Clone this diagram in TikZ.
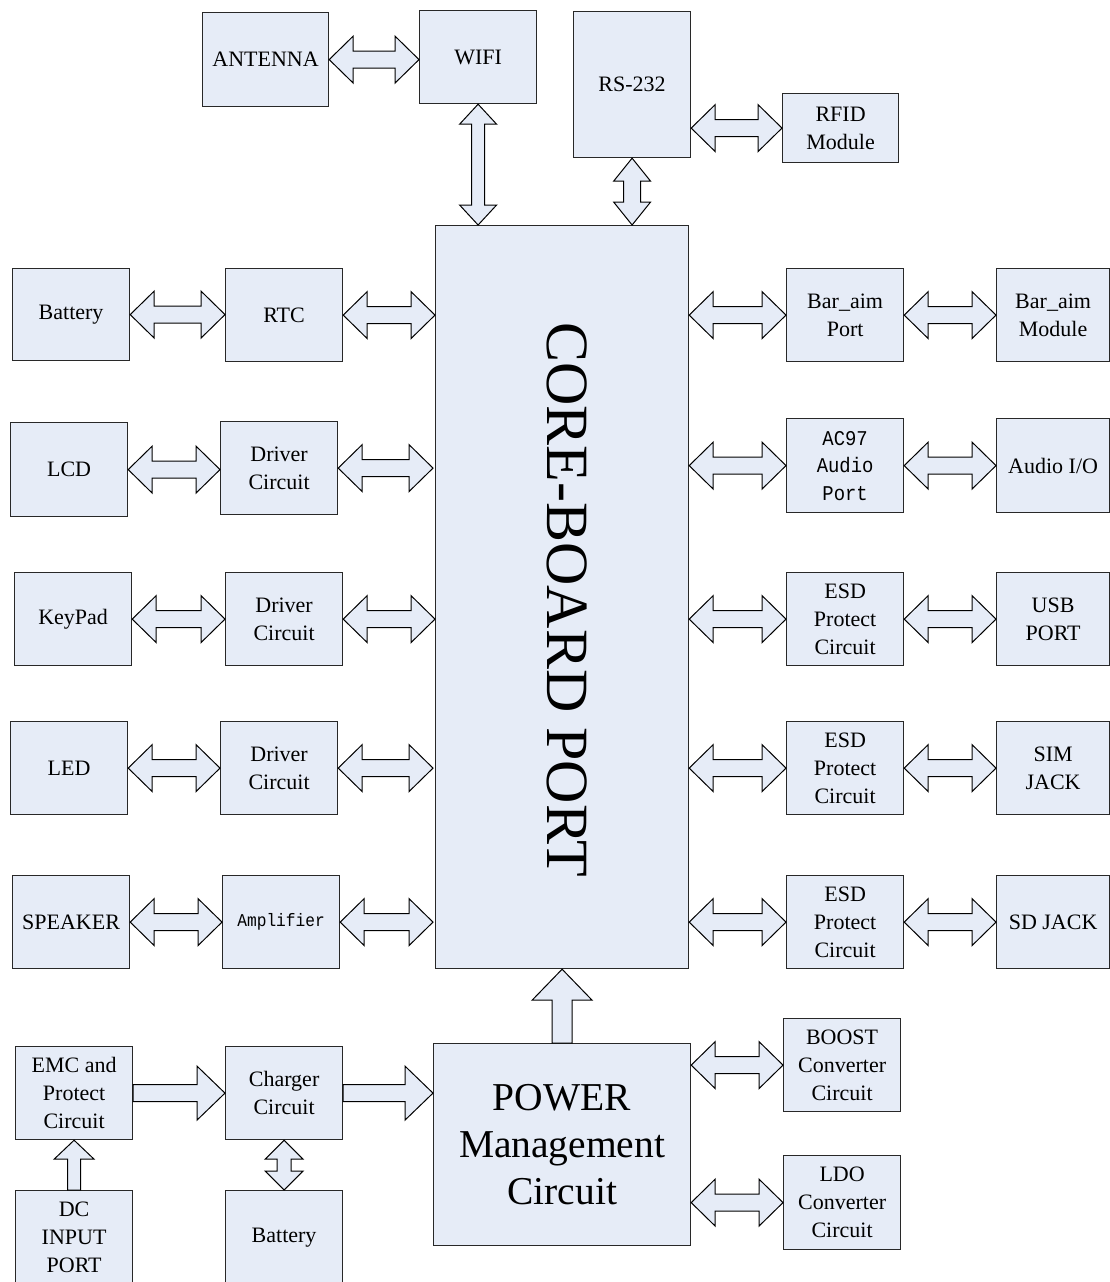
\documentclass[tikz,border=0pt]{standalone}
\usepackage{fontspec}
\setmainfont{Liberation Serif}
\newfontfamily\monof[FakeStretch=0.9]{Liberation Mono}
\usetikzlibrary{calc}
\definecolor{boxfill}{RGB}{230,236,247}
\definecolor{boxline}{RGB}{40,40,40}
\tikzset{
  box/.style={draw=boxline, fill=boxfill, line width=1.2pt, inner sep=0pt, align=center, anchor=north west,
     font=\fontsize{22}{28}\selectfont},
  arr/.style={draw=black, fill=boxfill, line width=1pt, line join=miter}
}
% double horizontal block arrow: #1 left point, #2 right point, #3 head length, #4 head half-height, #5 shaft half-height
\newcommand\dha[5]{\draw[arr] let \p1=#1, \p2=#2 in
  (\x1,\y1) -- (\x1+#3,\y1+#4) -- (\x1+#3,\y1+#5) -- (\x2-#3,\y1+#5) -- (\x2-#3,\y1+#4) -- (\x2,\y1)
  -- (\x2-#3,\y1-#4) -- (\x2-#3,\y1-#5) -- (\x1+#3,\y1-#5) -- (\x1+#3,\y1-#4) -- cycle;}
% double vertical block arrow: #1 top point, #2 bottom point
\newcommand\dva[5]{\draw[arr] let \p1=#1, \p2=#2 in
  (\x1,\y1) -- (\x1+#4,\y1-#3) -- (\x1+#5,\y1-#3) -- (\x1+#5,\y2+#3) -- (\x1+#4,\y2+#3) -- (\x1,\y2)
  -- (\x1-#4,\y2+#3) -- (\x1-#5,\y2+#3) -- (\x1-#5,\y1-#3) -- (\x1-#4,\y1-#3) -- cycle;}
% single right arrow: #1 tail, #2 tip
\newcommand\sra[5]{\draw[arr] let \p1=#1, \p2=#2 in
  (\x1,\y1+#5) -- (\x2-#3,\y1+#5) -- (\x2-#3,\y1+#4) -- (\x2,\y1) -- (\x2-#3,\y1-#4) -- (\x2-#3,\y1-#5) -- (\x1,\y1-#5) -- cycle;}
% single up arrow: #1 tail (bottom), #2 tip (top)
\newcommand\sua[5]{\draw[arr] let \p1=#1, \p2=#2 in
  (\x1-#5,\y1) -- (\x1-#5,\y2-#3) -- (\x1-#4,\y2-#3) -- (\x1,\y2) -- (\x1+#4,\y2-#3) -- (\x1+#5,\y2-#3) -- (\x1+#5,\y1) -- cycle;}
\newcommand\dbh[2]{\dha{#1}{#2}{24pt}{23.5pt}{8.5pt}}
\begin{document}
\begin{tikzpicture}[x=1pt,y=-1pt]
\useasboundingbox (0,0) rectangle (1110,1282);
% top
\node[box, minimum width=126pt, minimum height=94pt] (ant) at (202,12) {ANTENNA};
\node[box, minimum width=117pt, minimum height=93pt] (wifi) at (419,10) {WIFI};
\node[box, minimum width=117pt, minimum height=146pt] (rs) at (573,11) {RS-232};
\node[box, minimum width=116pt, minimum height=69pt] (rfid) at (782,93) {RFID\\Module};
% core
\node[box, minimum width=253pt, minimum height=743pt] (core) at (435,225) {};
\node[rotate=-90, font=\fontsize{60}{60}\selectfont, inner sep=0pt] (coret) at (567,600) {CORE-BOARD PORT};
% left column
\node[box, minimum width=117pt, minimum height=92pt] (bat1) at (12,268) {Battery};
\node[box, minimum width=117pt, minimum height=93pt] (rtc) at (225,268) {RTC};
\node[box, minimum width=117pt, minimum height=94pt] (lcd) at (10,422) {LCD};
\node[box, minimum width=117pt, minimum height=93pt] (drv1) at (220,421) {Driver\\Circuit};
\node[box, minimum width=117pt, minimum height=93pt] (kp) at (14,572) {KeyPad};
\node[box, minimum width=117pt, minimum height=93pt] (drv2) at (225,572) {Driver\\Circuit};
\node[box, minimum width=117pt, minimum height=93pt] (led) at (10,721) {LED};
\node[box, minimum width=117pt, minimum height=93pt] (drv3) at (220,721) {Driver\\Circuit};
\node[box, minimum width=117pt, minimum height=93pt] (spk) at (12,875) {SPEAKER};
\node[box, minimum width=117pt, minimum height=93pt, font=\monof\fontsize{18}{22}\selectfont] (amp) at (222,875) {Amplifier};
% right column
\node[box, minimum width=117pt, minimum height=93pt] (bap) at (786,268) {Bar\_aim\\Port};
\node[box, minimum width=113pt, minimum height=93pt] (bam) at (996,268) {Bar\_aim\\Module};
\node[box, minimum width=117pt, minimum height=94pt, font=\monof\fontsize{21}{27.5}\selectfont] (ac97) at (786,418) {AC97\\Audio\\Port};
\node[box, minimum width=113pt, minimum height=94pt] (aio) at (996,418) {Audio I/O};
\node[box, minimum width=117pt, minimum height=93pt] (esd1) at (786,572) {ESD\\Protect\\Circuit};
\node[box, minimum width=113pt, minimum height=93pt] (usb) at (996,572) {USB\\PORT};
\node[box, minimum width=117pt, minimum height=93pt] (esd2) at (786,721) {ESD\\Protect\\Circuit};
\node[box, minimum width=113pt, minimum height=93pt] (sim) at (996,721) {SIM\\JACK};
\node[box, minimum width=117pt, minimum height=93pt] (esd3) at (786,875) {ESD\\Protect\\Circuit};
\node[box, minimum width=113pt, minimum height=93pt] (sd) at (996,875) {SD JACK};
% power section
\node[box, minimum width=117pt, minimum height=93pt] (emc) at (15,1046) {EMC and\\Protect\\Circuit};
\node[box, minimum width=117pt, minimum height=93pt] (chg) at (225,1046) {Charger\\Circuit};
\node[box, minimum width=117pt, minimum height=94pt] (dc) at (15,1190) {DC\\INPUT\\PORT};
\node[box, minimum width=117pt, minimum height=94pt] (bat2) at (225,1190) {Battery};
\node[box, minimum width=257pt, minimum height=202pt, font=\fontsize{39.5}{47}\selectfont] (pwr) at (433,1043) {POWER\\Management\\Circuit};
\node[box, minimum width=117pt, minimum height=93pt] (boost) at (783,1018) {BOOST\\Converter\\Circuit};
\node[box, minimum width=117pt, minimum height=94pt] (ldo) at (783,1155) {LDO\\Converter\\Circuit};
% connectors top
\dbh{(ant.east)}{(wifi.west |- ant.east)}
\dva{(wifi.south)}{(core.north -| wifi.south)}{20pt}{18.5pt}{6.5pt}
\dva{(rs.south)}{(core.north -| rs.south)}{23pt}{18.5pt}{8.5pt}
\dbh{(rs.east |- rfid.west)}{(rfid.west)}
% left connectors
\dbh{(bat1.east)}{(rtc.west |- bat1.east)}
\dbh{(rtc.east)}{(core.west |- rtc.east)}
\dbh{(lcd.east)}{(drv1.west |- lcd.east)}
\dbh{(drv1.east)}{([xshift=-2pt]core.west |- drv1.east)}
\dbh{(kp.east)}{(drv2.west |- kp.east)}
\dbh{(drv2.east)}{(core.west |- drv2.east)}
\dbh{(led.east)}{(drv3.west |- led.east)}
\dbh{(drv3.east)}{([xshift=-2pt]core.west |- drv3.east)}
\dbh{(spk.east)}{(amp.west |- spk.east)}
\dbh{(amp.east)}{([xshift=-2pt]core.west |- amp.east)}
% right connectors
\dbh{(core.east |- bap.west)}{(bap.west)}
\dbh{(bap.east)}{(bam.west |- bap.east)}
\dbh{(core.east |- ac97.west)}{(ac97.west)}
\dbh{(ac97.east)}{(aio.west |- ac97.east)}
\dbh{(core.east |- esd1.west)}{(esd1.west)}
\dbh{(esd1.east)}{(usb.west |- esd1.east)}
\dbh{(core.east |- esd2.west)}{(esd2.west)}
\dbh{(esd2.east)}{(sim.west |- esd2.east)}
\dbh{(core.east |- esd3.west)}{(esd3.west)}
\dbh{(esd3.east)}{(sd.west |- esd3.east)}
% power connectors
\sra{(emc.east)}{(chg.west |- emc.east)}{28pt}{27pt}{8.5pt}
\sra{(chg.east)}{(pwr.west |- chg.east)}{28pt}{27pt}{8.5pt}
\sua{(dc.north)}{(emc.south -| dc.north)}{19pt}{20pt}{6.5pt}
\dva{(chg.south)}{(bat2.north -| chg.south)}{19pt}{19pt}{7pt}
\sua{(pwr.north)}{(core.south -| pwr.north)}{31pt}{30pt}{10pt}
\dbh{(pwr.east |- boost.west)}{(boost.west)}
\dbh{(pwr.east |- ldo.west)}{(ldo.west)}
\end{tikzpicture}
\end{document}
